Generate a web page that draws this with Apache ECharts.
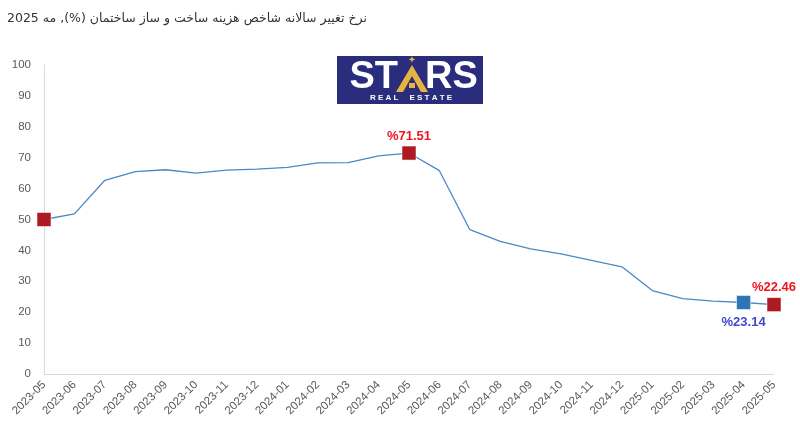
<!DOCTYPE html>
<html>
<head>
<meta charset="utf-8">
<script src="https://cdn.jsdelivr.net/npm/echarts@6/dist/echarts.min.js"></script>
<style>
html,body{margin:0;padding:0;background:#fff;}
#chart{width:800px;height:430px;}
</style>
</head>
<body>
<div id="chart"></div>
<script>
const titleText = 'نرخ تغییر سالانه شاخص هزینه ساخت و ساز ساختمان (%), مه 2025';
const categories = ['2023-05','2023-06','2023-07','2023-08','2023-09','2023-10','2023-11','2023-12',
  '2024-01','2024-02','2024-03','2024-04','2024-05','2024-06','2024-07','2024-08','2024-09','2024-10',
  '2024-11','2024-12','2025-01','2025-02','2025-03','2025-04','2025-05'];
const values = [50.0, 51.8, 62.7, 65.5, 66.1, 65.0, 66.0, 66.3,
  66.9, 68.3, 68.4, 70.6, 71.51, 65.8, 46.7, 42.9, 40.5, 38.9,
  36.8, 34.7, 27.0, 24.4, 23.6, 23.14, 22.46];
const yTicks = [0,10,20,30,40,50,60,70,80,90,100];
const redMarkers = ['2023-05','2024-05','2025-05'];
const blueMarkers = ['2025-04'];
const labelled = {'2024-05':'top','2025-05':'top','2025-04':'bottom'};

const RED = '#AE1A21', BLUE = '#2E75B6';

function markerData(list, color, labelColor) {
  return list.map(c => {
    const i = categories.indexOf(c);
    const item = { value: [c, values[i]], itemStyle: { color: color, opacity: 1, borderColor: 'rgba(255,255,255,0.5)', borderWidth: 1 } };
    if (labelled[c]) {
      item.label = {
        show: true, position: labelled[c], distance: labelled[c] === 'top' ? 3 : 6,
        formatter: '%' + values[i].toFixed(2),
        color: labelColor, fontSize: 13, fontWeight: 'bold', fontFamily: 'Liberation Sans'
      };
    } else {
      item.label = { show: false };
    }
    return item;
  });
}

const chart = echarts.init(document.getElementById('chart'), null, { renderer: 'canvas' });
chart.setOption({
  animation: false,
  backgroundColor: '#ffffff',
  title: {
    text: titleText, left: 2, top: 7,
    textStyle: { fontSize: 12.5, fontWeight: 'normal', color: '#333333', fontFamily: 'DejaVu Sans' }
  },
  grid: { left: 44, right: 26, top: 65, bottom: 56 },
  xAxis: {
    type: 'category', data: categories, boundaryGap: false,
    axisLine: { show: true, lineStyle: { color: '#D9D9D9', width: 1 } },
    axisTick: { show: false },
    axisLabel: { rotate: 45, fontSize: 11.5, color: '#595959', margin: 9, interval: 0, fontFamily: 'Liberation Sans' },
    splitLine: { show: false }
  },
  yAxis: {
    type: 'value', min: 0, max: 100, interval: 10,
    axisLine: { show: true, lineStyle: { color: '#D9D9D9', width: 1 } },
    axisTick: { show: false },
    axisLabel: { fontSize: 11.5, color: '#595959', margin: 13, fontFamily: 'Liberation Sans',
      formatter: v => yTicks.includes(v) ? String(v) : '' },
    splitLine: { show: false }
  },
  series: [
    {
      type: 'line', data: values, symbol: 'none',
      lineStyle: { color: '#4A89C8', width: 1.3 }, z: 2
    },
    {
      type: 'scatter', symbol: 'rect', symbolSize: 14,
      data: markerData(redMarkers, RED, '#F0141E'), z: 3
    },
    {
      type: 'scatter', symbol: 'rect', symbolSize: 14,
      data: markerData(blueMarkers, BLUE, '#3F48CC'), z: 3
    }
  ],
  graphic: [
    { type: 'rect', shape: { x: 337, y: 56, width: 146, height: 48 }, style: { fill: '#2A2C7C' } },
    { type: 'text', x: 398, y: 78, style: { text: 'ST', fill: '#ffffff', font: 'bold 38px "Liberation Sans"', textAlign: 'right', textVerticalAlign: 'middle' } },
    { type: 'text', x: 425, y: 78, style: { text: 'RS', fill: '#ffffff', font: 'bold 38px "Liberation Sans"', textAlign: 'left', textVerticalAlign: 'middle' } },
    { type: 'polygon', shape: { points: [[396,92],[412,65],[428,92],[421,92],[412,76],[403,92]] }, style: { fill: '#E8B440' } },
    { type: 'rect', shape: { x: 409, y: 83, width: 6, height: 5 }, style: { fill: '#E8B440' } },
    { type: 'text', x: 412, y: 60, style: { text: '✦', fill: '#E8B440', font: '10px "DejaVu Sans"', textAlign: 'center', textVerticalAlign: 'middle' } },
    { type: 'text', x: 411, y: 98, style: { text: 'R E A L     E S T A T E', fill: '#ffffff', font: 'bold 8px "Liberation Sans"', textAlign: 'center', textVerticalAlign: 'middle' } }
  ]
});
</script>
</body>
</html>
